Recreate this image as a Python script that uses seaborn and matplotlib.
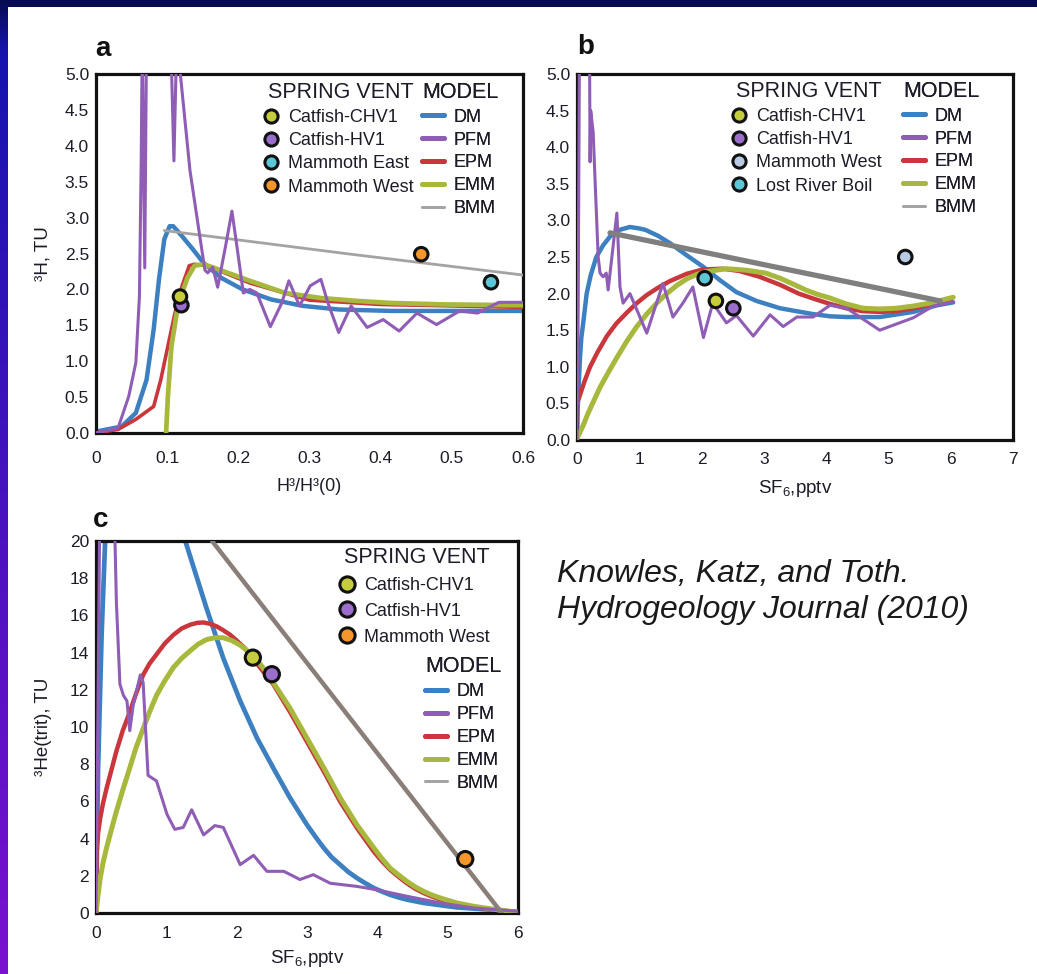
import numpy as np
import matplotlib
matplotlib.use("Agg")
import matplotlib.pyplot as plt
from matplotlib.lines import Line2D
from matplotlib.patches import Rectangle
import seaborn as sns

# ---------------- Panel a: 3H vs H3/H3(0) ----------------
a_dm_x = [0.0, 0.036, 0.056, 0.071, 0.081, 0.0885, 0.096, 0.1035, 0.1085, 0.121, 0.136, 0.151, 0.176, 0.206, 0.246, 0.291, 0.341, 0.416, 0.5, 0.6]
a_dm_y = [0.02, 0.09, 0.28, 0.74, 1.44, 2.14, 2.7, 2.88, 2.88, 2.74, 2.56, 2.37, 2.16, 2.0, 1.86, 1.77, 1.72, 1.70, 1.70, 1.70]

a_epm_x = [0.0, 0.031, 0.056, 0.081, 0.091, 0.101, 0.111, 0.121, 0.131, 0.1385, 0.156, 0.216, 0.3, 0.4, 0.5, 0.6]
a_epm_y = [0.0, 0.05, 0.19, 0.37, 0.74, 1.21, 1.67, 2.05, 2.33, 2.35, 2.33, 2.09, 1.85, 1.79, 1.77, 1.75]

a_emm_x = [0.0985, 0.101, 0.106, 0.1135, 0.121, 0.1285, 0.1385, 0.151, 0.166, 0.216, 0.266, 0.316, 0.366, 0.416, 0.491, 0.6]
a_emm_y = [0.0, 0.51, 1.21, 1.67, 1.95, 2.16, 2.33, 2.35, 2.3, 2.12, 1.95, 1.88, 1.84, 1.81, 1.79, 1.78]

a_pfm_x = [0.0, 0.031, 0.046, 0.056, 0.061, 0.0635, 0.065, 0.0685, 0.071, 0.073, 0.105, 0.1095, 0.1135, 0.118,
           0.132, 0.146, 0.153, 0.157, 0.164, 0.171, 0.182, 0.191, 0.198, 0.207, 0.216, 0.226, 0.245, 0.261,
           0.271, 0.286, 0.301, 0.316, 0.326, 0.341, 0.3585, 0.381, 0.4035, 0.426, 0.451, 0.4785, 0.511, 0.536, 0.566, 0.6]
a_pfm_y = [0.0, 0.07, 0.51, 0.98, 1.9, 3.77, 5.5, 2.3, 5.5, 5.5, 5.5, 3.79, 5.5, 5.05,
           3.66, 2.73, 2.27, 2.23, 2.31, 2.03, 2.6, 3.09, 2.6, 1.95, 2.0, 1.95, 1.48, 1.81,
           2.12, 1.77, 2.05, 2.14, 1.81, 1.4, 1.77, 1.47, 1.58, 1.42, 1.67, 1.51, 1.70, 1.67, 1.82, 1.82]

a_bmm_x = [0.096, 0.35, 0.6]
a_bmm_y = [2.82, 2.5, 2.2]

a_sites = ["Catfish-HV1", "Catfish-CHV1", "Mammoth East", "Mammoth West"]
a_site_x = [0.12, 0.118, 0.555, 0.457]
a_site_y = [1.78, 1.9, 2.1, 2.49]

# ---------------- Panel b: 3H vs SF6 ----------------
b_dm_x = [0.0, 0.01, 0.03, 0.05, 0.07, 0.1, 0.155, 0.22, 0.31, 0.42, 0.53, 0.68, 0.85, 1.0, 1.1, 1.3, 1.49, 1.75,
          2.02, 2.3, 2.56, 2.88, 3.26, 3.52, 3.79, 4.06, 4.33, 4.86, 5.4, 5.78, 6.04]
b_dm_y = [0.0, 0.4, 0.8, 1.15, 1.4, 1.6, 2.0, 2.25, 2.5, 2.66, 2.78, 2.87, 2.91, 2.89, 2.87, 2.79, 2.69, 2.53,
          2.37, 2.18, 2.02, 1.9, 1.8, 1.76, 1.72, 1.69, 1.68, 1.68, 1.75, 1.84, 1.88]

b_epm_x = [0.0, 0.05, 0.12, 0.21, 0.33, 0.48, 0.63, 0.8, 0.96, 1.12, 1.3, 1.49, 1.76, 2.02, 2.34, 2.6, 2.93, 3.26,
           3.56, 3.8, 4.06, 4.32, 4.59, 4.86, 5.13, 5.4, 5.67, 6.01]
b_epm_y = [0.5, 0.62, 0.8, 1.0, 1.2, 1.42, 1.59, 1.74, 1.87, 1.98, 2.08, 2.17, 2.27, 2.33, 2.34, 2.31, 2.23, 2.12,
           2.0, 1.93, 1.86, 1.8, 1.76, 1.75, 1.76, 1.8, 1.85, 1.9]

b_emm_x = [0.0, 0.1, 0.17, 0.25, 0.37, 0.5, 0.65, 0.8, 0.96, 1.12, 1.28, 1.44, 1.6, 1.76, 1.92, 2.07, 2.4, 2.71,
           3.03, 3.26, 3.47, 3.67, 3.86, 4.06, 4.32, 4.59, 4.86, 5.13, 5.4, 5.67, 6.04]
b_emm_y = [0.02, 0.2, 0.35, 0.5, 0.72, 0.92, 1.14, 1.35, 1.55, 1.72, 1.87, 2.0, 2.11, 2.2, 2.26, 2.3, 2.34, 2.32,
           2.28, 2.21, 2.13, 2.05, 1.99, 1.94, 1.86, 1.8, 1.79, 1.8, 1.83, 1.87, 1.95]

b_pfm_x = [0.0, 0.02, 0.04, 0.2, 0.21, 0.22, 0.26, 0.29, 0.34, 0.37, 0.42, 0.47, 0.5, 0.56, 0.64, 0.69, 0.74, 0.85,
           0.96, 1.12, 1.38, 1.54, 1.7, 1.86, 2.03, 2.18, 2.4, 2.56, 2.83, 3.1, 3.31, 3.53, 3.79, 4.06, 4.33,
           4.86, 5.4, 5.72, 6.04]
b_pfm_y = [0.0, 2.0, 5.5, 5.5, 3.8, 4.5, 4.2, 3.55, 2.5, 2.28, 2.23, 2.28, 2.05, 2.5, 3.1, 2.09, 1.87, 2.0,
           1.78, 1.46, 2.14, 1.68, 1.87, 2.09, 1.4, 1.87, 1.6, 1.7, 1.42, 1.71, 1.55, 1.68, 1.68, 1.84, 1.8,
           1.5, 1.67, 1.83, 1.89]

b_bmm_x = [0.53, 3.26, 5.83]
b_bmm_y = [2.83, 2.35, 1.9]

b_sites = ["Catfish-CHV1", "Catfish-HV1", "Mammoth West", "Lost River Boil"]
b_site_x = [2.23, 2.51, 5.27, 2.05]
b_site_y = [1.9, 1.8, 2.5, 2.21]

# ---------------- Panel c: 3He(trit) vs SF6 ----------------
c_dm_x = [6.0, 5.6, 5.13, 4.66, 4.42, 4.3, 4.18, 4.07, 3.95, 3.83, 3.71, 3.59, 3.47, 3.35, 3.24, 3.12, 3.0, 2.76,
          2.52, 2.29, 2.05, 1.81, 1.57, 1.27, 1.1, 0.2, 0.13, 0.08, 0.03, 0.0]
c_dm_y = [0.04, 0.18, 0.3, 0.54, 0.72, 0.84, 0.98, 1.15, 1.34, 1.6, 1.88, 2.2, 2.6, 3.0, 3.49, 4.1, 4.74, 6.18,
          7.8, 9.4, 11.4, 13.7, 16.4, 20.0, 23.0, 23.0, 20.0, 15.0, 7.8, 0.0]

c_epm_x = [0.0, 0.005, 0.01, 0.03, 0.06, 0.1, 0.15, 0.22, 0.29, 0.38, 0.48, 0.57, 0.67, 0.76, 0.86, 0.98, 1.1,
           1.22, 1.34, 1.44, 1.53, 1.62, 1.72, 1.81, 1.91, 2.0, 2.1, 2.2, 2.29, 2.52, 2.76, 3.0, 3.24, 3.47,
           3.71, 3.95, 4.05, 4.18, 4.3, 4.42, 4.54, 4.66, 4.78, 4.9, 5.13, 5.37, 5.6, 5.8, 6.0]
c_epm_y = [0.0, 2.0, 3.3, 4.3, 5.1, 5.9, 6.7, 7.7, 8.7, 9.8, 10.8, 11.8, 12.8, 13.4, 13.9, 14.5, 14.95,
           15.3, 15.5, 15.6, 15.62, 15.55, 15.4, 15.2, 14.95, 14.65, 14.3, 13.85, 13.4, 12.3, 10.8, 9.2, 7.6, 6.0,
           4.57, 3.3, 2.85, 2.33, 1.95, 1.6, 1.3, 1.07, 0.88, 0.72, 0.48, 0.32, 0.21, 0.12, 0.04]

c_emm_x = [0.0, 0.03, 0.06, 0.1, 0.15, 0.22, 0.29, 0.38, 0.48, 0.57, 0.67, 0.76, 0.86, 0.98, 1.1, 1.22, 1.34,
           1.45, 1.57, 1.69, 1.81, 1.93, 2.05, 2.17, 2.29, 2.4, 2.52, 2.64, 2.76, 2.88, 3.0, 3.24, 3.47, 3.71,
           3.95, 4.05, 4.18, 4.3, 4.42, 4.54, 4.66, 4.78, 4.9, 5.13, 5.37, 5.6, 5.8, 6.0]
c_emm_y = [0.0, 1.0, 1.88, 2.7, 3.5, 4.5, 5.46, 6.6, 7.8, 8.9, 9.9, 10.8, 11.7, 12.5, 13.2, 13.7, 14.1,
           14.45, 14.7, 14.8, 14.8, 14.65, 14.4, 14.05, 13.6, 13.05, 12.4, 11.7, 11.0, 10.2, 9.4, 7.8, 6.2, 4.74,
           3.5, 3.0, 2.42, 2.05, 1.7, 1.4, 1.16, 0.96, 0.8, 0.54, 0.36, 0.23, 0.13, 0.04]

c_pfm_x = [0.0, 0.02, 0.05, 0.07, 0.25, 0.27, 0.29, 0.34, 0.39, 0.44, 0.48, 0.53, 0.63, 0.67, 0.74, 0.86, 1.01,
           1.12, 1.24, 1.36, 1.53, 1.69, 1.81, 2.05, 2.24, 2.43, 2.67, 2.9, 3.09, 3.33, 3.71, 3.99, 4.42,
           4.9, 5.37, 6.0]
c_pfm_y = [0.0, 8.0, 20.0, 25.0, 25.0, 20.0, 16.7, 12.3, 11.7, 11.4, 9.8, 11.2, 12.8, 12.4, 7.4, 7.1, 5.3,
           4.5, 4.6, 5.55, 4.2, 4.7, 4.6, 2.6, 3.1, 2.24, 2.24, 1.8, 2.06, 1.6, 1.43, 1.25, 0.9,
           0.54, 0.27, 0.09]

c_bmm_x = [1.65, 5.77]
c_bmm_y = [20.0, 0.0]

c_sites = ["Catfish-CHV1", "Catfish-HV1", "Mammoth West"]
c_site_x = [2.23, 2.5, 5.25]
c_site_y = [13.73, 12.84, 2.9]

# ---------------- styling ----------------
DM, PFM, EPM, EMM = "#3d80c2", "#8f5db6", "#c9373c", "#a7b83c"
BMM_LEG = "#a3a3a3"
site_colors = {"Catfish-CHV1": "#c6cd3c", "Catfish-HV1": "#9b6dcc",
               "Mammoth East": "#5cc7d7", "Mammoth West": "#f5962a",
               "Lost River Boil": "#5cc7d7"}
b_site_colors = dict(site_colors, **{"Mammoth West": "#b9cbe4"})
TXT = "#1c1c28"

sns.set_style("white")
plt.rcParams["font.family"] = ["Liberation Sans", "DejaVu Sans"]
plt.rcParams["mathtext.fontset"] = "custom"
plt.rcParams["mathtext.rm"] = "Liberation Sans"
plt.rcParams["mathtext.it"] = "Liberation Sans:italic"

W, H = 1037, 974
fig = plt.figure(figsize=(W / 100, H / 100), dpi=100)
fig.patch.set_facecolor("#070b52")

# slide backdrop: gradient strip on the left, white page
bg = fig.add_axes([0, 0, 1, 1], zorder=-10)
bg.set_xlim(0, 1)
bg.set_ylim(0, 1)
bg.set_axis_off()
t = np.linspace(0, 1, 300)[:, None]
top = np.array([7, 11, 82]) / 255
mid = np.array([22, 20, 172]) / 255
bot = np.array([122, 18, 206]) / 255
grad = np.where(t < 0.05, top + (mid - top) * (t / 0.05), mid + (bot - mid) * ((t - 0.05) / 0.95))
grad = grad.reshape(300, 1, 3)
bg.imshow(grad, extent=[0, 8 / W, 0, 1], aspect="auto", origin="upper")
bg.add_patch(Rectangle((8 / W, 0), 1, (H - 7) / H, color="white", lw=0))


def px_axes(left, top_, right, bottom):
    return fig.add_axes([left / W, 1 - bottom / H, (right - left) / W, (bottom - top_) / H])


def draw(ax, x, y, color, lw, z):
    sns.lineplot(x=x, y=y, sort=False, estimator=None, color=color, lw=lw, ax=ax,
                 legend=False, zorder=z, solid_capstyle="round", solid_joinstyle="round")


def sites(ax, names, xs, ys, pal, s=95):
    sns.scatterplot(x=xs, y=ys, hue=names, palette=pal, s=s, edgecolor="#111111",
                    linewidth=2.2, legend=False, ax=ax, zorder=10, clip_on=False)


def style(ax, xlim, ylim, xt, xtl, yt, ytl, xpad):
    ax.set_xlim(*xlim)
    ax.set_ylim(*ylim)
    ax.set_xticks(xt, xtl)
    ax.set_yticks(yt, ytl)
    ax.tick_params(axis="both", direction="in", length=8, width=1.6, colors="#111111",
                   labelcolor=TXT, labelsize=12.5, top=False, right=False)
    ax.tick_params(axis="x", pad=xpad)
    ax.tick_params(axis="y", pad=5)
    for s in ax.spines.values():
        s.set_linewidth(2.3)
        s.set_color("#111111")
    ax.set_facecolor("white")


def site_handle(c, ms=9.5):
    return Line2D([], [], marker="o", ls="", ms=ms, mfc=c, mec="#111111", mew=2.2)


def line_handle(c, lw=3.5):
    return Line2D([], [], color=c, lw=lw)


def legend(ax, handles, labels, title, x, y, spacing, hlen, hpad, align):
    leg = ax.legend(handles=handles, labels=labels, title=title, loc="upper left",
                    bbox_to_anchor=(x / W, 1 - y / H), bbox_transform=fig.transFigure,
                    frameon=False, fontsize=13, title_fontsize=15.5, borderpad=0,
                    borderaxespad=0, handlelength=hlen, handletextpad=hpad,
                    labelspacing=spacing, alignment=align)
    for tx in leg.get_texts():
        tx.set_color(TXT)
    leg.get_title().set_color(TXT)
    ax.add_artist(leg)
    return leg


models = ["DM", "PFM", "EPM", "EMM", "BMM"]


def model_handles():
    return [line_handle(c, 3.5 if c != BMM_LEG else 2) for c in [DM, PFM, EPM, EMM, BMM_LEG]]


# ---------------- panel a ----------------
axa = px_axes(96, 74, 523, 433)
draw(axa, a_dm_x, a_dm_y, DM, 3.2, 2)
draw(axa, a_epm_x, a_epm_y, EPM, 2.6, 3)
draw(axa, a_emm_x, a_emm_y, EMM, 3.4, 4)
draw(axa, a_bmm_x, a_bmm_y, "#a3a3a3", 2.0, 5)
draw(axa, a_pfm_x, a_pfm_y, PFM, 2.2, 6)
sites(axa, a_sites, a_site_x, a_site_y, site_colors)
style(axa, (0, 0.6), (0, 5), [0, 0.1, 0.2, 0.3, 0.4, 0.5, 0.6],
      ["0", "0.1", "0.2", "0.3", "0.4", "0.5", "0.6"],
      np.arange(0, 5.01, 0.5), [f"{v:.1f}" for v in np.arange(0, 5.01, 0.5)], 13)
axa.set_xlabel("H³/H³(0)", fontsize=13, color=TXT)
axa.set_ylabel("³H, TU", fontsize=13.5, color=TXT)
axa.xaxis.set_label_coords(0.5, -0.125)
axa.yaxis.set_label_coords(-0.105, 0.5)
a_leg_names = ["Catfish-CHV1", "Catfish-HV1", "Mammoth East", "Mammoth West"]
legend(axa, [site_handle(site_colors[n]) for n in a_leg_names], a_leg_names, "SPRING VENT",
       262, 82, 0.34, 1.0, 0.45, "right")
legend(axa, model_handles(), models, "MODEL", 422, 82, 0.32, 1.22, 0.55, "left")
fig.text(95 / W, 1 - 56 / H, "a", fontsize=20, fontweight="bold", color="#111111")

# ---------------- panel b ----------------
axb = px_axes(577, 74, 1013, 440)
draw(axb, b_dm_x, b_dm_y, DM, 3.2, 2)
draw(axb, b_epm_x, b_epm_y, EPM, 3.2, 3)
draw(axb, b_emm_x, b_emm_y, EMM, 3.6, 4)
draw(axb, b_pfm_x, b_pfm_y, PFM, 2.2, 5)
draw(axb, b_bmm_x, b_bmm_y, "#7f7f7f", 3.8, 6)
sites(axb, b_sites, b_site_x, b_site_y, b_site_colors)
style(axb, (0, 7), (0, 5), range(8), [str(v) for v in range(8)],
      np.arange(0, 5.01, 0.5), [f"{v:.1f}" for v in np.arange(0, 5.01, 0.5)], 9)
axb.set_xlabel("SF$_6$,pptv", fontsize=13.5, color=TXT)
axb.xaxis.set_label_coords(0.5, -0.105)
legend(axb, [site_handle(b_site_colors[n]) for n in b_sites], b_sites, "SPRING VENT",
       730, 81, 0.34, 1.0, 0.45, "right")
legend(axb, model_handles(), models, "MODEL", 903, 81, 0.32, 1.22, 0.55, "left")
fig.text(577 / W, 1 - 54 / H, "b", fontsize=20, fontweight="bold", color="#111111")

# ---------------- panel c ----------------
axc = px_axes(96, 541, 518, 913)
draw(axc, c_dm_x, c_dm_y, DM, 3.4, 2)
draw(axc, c_epm_x, c_epm_y, EPM, 3.2, 3)
draw(axc, c_emm_x, c_emm_y, EMM, 3.6, 4)
draw(axc, c_pfm_x, c_pfm_y, PFM, 2.2, 5)
draw(axc, c_bmm_x, c_bmm_y, "#8a7e78", 3.2, 6)
sites(axc, c_sites, c_site_x, c_site_y, site_colors, s=120)
style(axc, (0, 6), (0, 20), range(7), [str(v) for v in range(7)],
      range(0, 21, 2), [str(v) for v in range(0, 21, 2)], 9)
axc.set_xlabel("SF$_6$,pptv", fontsize=13.5, color=TXT)
axc.set_ylabel("³He(trit), TU", fontsize=13.5, color=TXT)
axc.xaxis.set_label_coords(0.5, -0.095)
axc.yaxis.set_label_coords(-0.105, 0.5)
legend(axc, [site_handle(site_colors[n], 11) for n in c_sites], c_sites, "SPRING VENT",
       338, 547, 0.49, 1.0, 0.45, "right")
legend(axc, model_handles(), models, "MODEL", 425, 656, 0.33, 1.22, 0.55, "left")
fig.text(93 / W, 1 - 527 / H, "c", fontsize=20, fontweight="bold", color="#111111")

fig.text(557 / W, 1 - 559 / H, "Knowles, Katz, and Toth.\nHydrogeology Journal (2010)",
         fontsize=23, style="italic", color="#1a1a1a", va="top", linespacing=1.27)

fig.savefig("out.png", dpi=100, facecolor=fig.get_facecolor())
